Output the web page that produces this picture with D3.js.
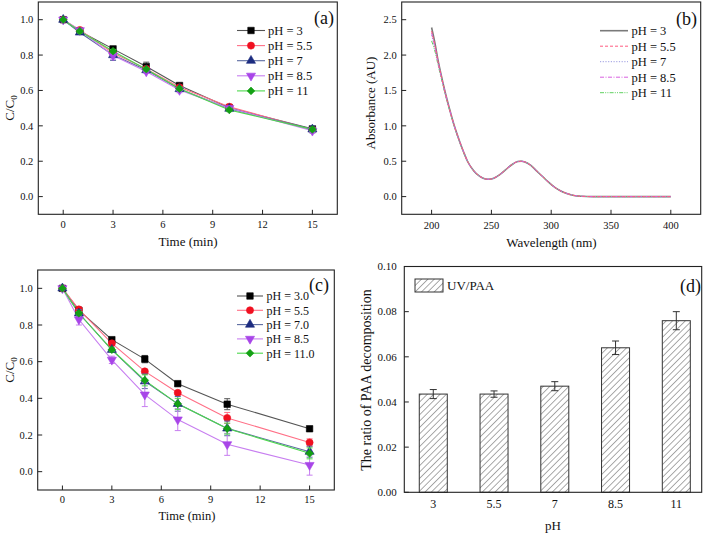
<!DOCTYPE html>
<html><head><meta charset="utf-8">
<script src="https://cdn.jsdelivr.net/npm/d3@7/dist/d3.min.js"></script>
<style>
body{margin:0;background:#fff;}
svg text{font-family:"Liberation Serif","Times New Roman",serif;fill:#111;}
</style></head>
<body><svg id="c" width="709" height="535"></svg>
<script>
// ---------- DATA ----------
const times = [0, 1, 3, 5, 7, 10, 15];
// panel (a)
const aLabels = ["pH = 3", "pH = 5.5", "pH = 7", "pH = 8.5", "pH = 11"];
const aPH3  = [1.0, 0.935, 0.835, 0.735, 0.628, 0.502, 0.383];
const aPH55 = [1.0, 0.942, 0.812, 0.722, 0.618, 0.508, 0.378];
const aPH7  = [1.0, 0.928, 0.800, 0.715, 0.608, 0.497, 0.380];
const aPH85 = [1.0, 0.940, 0.797, 0.707, 0.602, 0.500, 0.372];
const aPH11 = [1.0, 0.935, 0.822, 0.720, 0.610, 0.490, 0.380];
const aErr3  = [0, 0.005, 0.010, 0.025, 0.010, 0.010, 0.010];
const aErr55 = [0, 0.010, 0.010, 0.010, 0.010, 0.015, 0.010];
const aErr7  = [0, 0.010, 0.030, 0.010, 0.010, 0.010, 0.020];
const aErr85 = [0, 0.010, 0.020, 0.010, 0.015, 0.010, 0.010];
const aErr11 = [0, 0.010, 0.010, 0.010, 0.010, 0.010, 0.010];
// panel (b)
const wavelength = [200, 203, 205, 208, 211, 215, 219, 223, 227, 230, 235, 240, 245, 248, 252, 257, 262, 267, 272, 275, 278, 283, 288, 293, 298, 303, 308, 313, 318, 325, 335, 350, 375, 400];
const bPH3  = [2.39, 2.15, 1.96, 1.72, 1.50, 1.24, 1.00, 0.80, 0.62, 0.50, 0.37, 0.29, 0.25, 0.245, 0.26, 0.31, 0.38, 0.45, 0.495, 0.50, 0.49, 0.44, 0.36, 0.28, 0.20, 0.13, 0.08, 0.045, 0.02, 0.005, 0.0, 0.0, 0.0, 0.0];
const bPH55 = [2.34, 2.12, 1.94, 1.71, 1.49, 1.23, 1.00, 0.80, 0.62, 0.50, 0.37, 0.29, 0.25, 0.245, 0.26, 0.31, 0.38, 0.45, 0.495, 0.50, 0.49, 0.44, 0.36, 0.28, 0.20, 0.13, 0.08, 0.045, 0.02, 0.005, 0.0, 0.0, 0.0, 0.0];
const bPH7  = [2.28, 2.08, 1.92, 1.70, 1.48, 1.23, 0.99, 0.79, 0.62, 0.50, 0.37, 0.29, 0.25, 0.245, 0.26, 0.31, 0.38, 0.45, 0.495, 0.50, 0.49, 0.44, 0.36, 0.28, 0.20, 0.13, 0.08, 0.045, 0.02, 0.005, 0.0, 0.0, 0.0, 0.0];
const bPH85 = [2.31, 2.10, 1.93, 1.70, 1.49, 1.23, 1.00, 0.80, 0.62, 0.50, 0.37, 0.29, 0.25, 0.245, 0.26, 0.31, 0.38, 0.45, 0.495, 0.50, 0.49, 0.44, 0.36, 0.28, 0.20, 0.13, 0.08, 0.045, 0.02, 0.005, 0.0, 0.0, 0.0, 0.0];
const bPH11 = [2.20, 2.04, 1.89, 1.68, 1.47, 1.22, 0.99, 0.79, 0.61, 0.50, 0.37, 0.29, 0.25, 0.245, 0.26, 0.31, 0.38, 0.45, 0.495, 0.50, 0.49, 0.44, 0.36, 0.28, 0.20, 0.13, 0.08, 0.045, 0.02, 0.005, 0.0, 0.0, 0.0, 0.0];
// panel (c)
const cLabels = ["pH = 3.0", "pH = 5.5", "pH = 7.0", "pH = 8.5", "pH = 11.0"];
const cPH3  = [1.0, 0.880, 0.720, 0.614, 0.480, 0.368, 0.234];
const cPH55 = [1.0, 0.885, 0.700, 0.547, 0.430, 0.293, 0.159];
const cPH7  = [1.0, 0.864, 0.665, 0.493, 0.370, 0.236, 0.109];
const cPH85 = [1.0, 0.830, 0.610, 0.420, 0.284, 0.149, 0.036];
const cPH11 = [1.0, 0.864, 0.665, 0.498, 0.370, 0.235, 0.100];
const cErr3  = [0, 0.010, 0.010, 0.020, 0.010, 0.030, 0.010];
const cErr55 = [0, 0.010, 0.010, 0.010, 0.010, 0.030, 0.020];
const cErr7  = [0, 0.020, 0.010, 0.040, 0.040, 0.040, 0.030];
const cErr85 = [0, 0.030, 0.020, 0.065, 0.060, 0.060, 0.055];
const cErr11 = [0, 0.010, 0.010, 0.030, 0.030, 0.030, 0.030];
// panel (d)
const dCats = ["3", "5.5", "7", "8.5", "11"];
const dVals = [0.0435, 0.0435, 0.0470, 0.0640, 0.0760];
const dErr  = [0.0020, 0.0014, 0.0020, 0.0030, 0.0040];
const timeTicks = [0, 3, 6, 9, 12, 15];
const ccTicks = [0.0, 0.2, 0.4, 0.6, 0.8, 1.0];
const absTicks = [0.0, 0.5, 1.0, 1.5, 2.0, 2.5];
const wlTicks = [200, 250, 300, 350, 400];
const dTicks = [0.00, 0.02, 0.04, 0.06, 0.08, 0.10];

// ---------- STYLES ----------
const markerCol = ["#000000", "#f01020", "#1c2c80", "#a845e8", "#14a014"];
const lineCol   = ["#555555", "#ff6f86", "#5a6aa0", "#c77ef0", "#4cd84c"];
const symbols = [d3.symbolSquare, d3.symbolCircle, d3.symbolTriangle, d3.symbolTriangle, d3.symbolSquare];
const symRot = [0, 0, 0, 180, 45];
const symSize = [42, 40, 36, 36, 30];

const svg = d3.select("#c");
const axisCol = "#222";

function frame(g, L, R, T, B) {
  g.append("rect").attr("x", L).attr("y", T).attr("width", R - L).attr("height", B - T)
    .attr("fill", "none").attr("stroke", axisCol).attr("stroke-width", 1.1);
}
function xAxisTicks(g, x, ticks, B, fmt, fs, dy) {
  ticks.forEach(t => {
    g.append("line").attr("x1", x(t)).attr("x2", x(t)).attr("y1", B).attr("y2", B - 4.5).attr("stroke", axisCol);
    g.append("text").attr("x", x(t)).attr("y", B + dy).attr("text-anchor", "middle").attr("font-size", fs).text(fmt(t));
  });
}
function yAxisTicks(g, y, ticks, L, fmt, fs, dx) {
  ticks.forEach(t => {
    g.append("line").attr("x1", L).attr("x2", L + 4.5).attr("y1", y(t)).attr("y2", y(t)).attr("stroke", axisCol);
    g.append("text").attr("x", L - dx).attr("y", y(t) + 3.7).attr("text-anchor", "end").attr("font-size", fs).text(fmt(t));
  });
}
function marker(g, i, cx, cy) {
  g.append("path").attr("d", d3.symbol().type(symbols[i]).size(symSize[i])())
    .attr("transform", `translate(${cx},${cy}) rotate(${symRot[i]})`)
    .attr("fill", markerCol[i]).attr("stroke", markerCol[i]).attr("stroke-width", 0.6);
}
function ccLabel(g, x, y) {
  const t = g.append("text").attr("transform", `translate(${x},${y}) rotate(-90)`)
    .attr("text-anchor", "middle").attr("font-size", 13);
  t.append("tspan").text("C/C");
  t.append("tspan").attr("font-size", 9).attr("dy", 3).text("0");
}

function kineticPanel(L, R, T, B, series, errs, labels, tag, leg, tickDy) {
  const g = svg.append("g");
  const x = d3.scaleLinear().domain([-1.5, 16.5]).range([L, R]);
  const y = d3.scaleLinear().domain([-0.1, 1.1]).range([B, T]);
  const line = d3.line().x((d, k) => x(times[k])).y(d => y(d));
  series.forEach((s, i) => {
    g.append("path").attr("d", line(s)).attr("fill", "none").attr("stroke", lineCol[i]).attr("stroke-width", 1.1);
  });
  series.forEach((s, i) => {
    s.forEach((v, k) => {
      const e = errs[i][k];
      if (e > 0) {
        const cx = x(times[k]);
        g.append("line").attr("x1", cx).attr("x2", cx).attr("y1", y(v - e)).attr("y2", y(v + e)).attr("stroke", lineCol[i]).attr("stroke-width", 1);
        [v - e, v + e].forEach(w => g.append("line").attr("x1", cx - 3).attr("x2", cx + 3).attr("y1", y(w)).attr("y2", y(w)).attr("stroke", lineCol[i]).attr("stroke-width", 1));
      }
      marker(g, i, x(times[k]), y(v));
    });
  });
  frame(g, L, R, T, B);
  xAxisTicks(g, x, timeTicks, B, d3.format("d"), 10.5, tickDy);
  yAxisTicks(g, y, ccTicks, L, d3.format(".1f"), 10.5, 5);
  // legend
  labels.forEach((lb, i) => {
    const ly = leg.y0 + i * leg.dy;
    g.append("line").attr("x1", leg.x1).attr("x2", leg.x2).attr("y1", ly).attr("y2", ly).attr("stroke", lineCol[i]).attr("stroke-width", 1.1);
    marker(g, i, (leg.x1 + leg.x2) / 2, ly);
    g.append("text").attr("x", leg.tx).attr("y", ly + 4.3).attr("font-size", leg.fs).text(lb);
  });
  g.append("text").attr("x", tag.x).attr("y", tag.y).attr("font-size", 18).attr("text-anchor", "end").text(tag.t);
  return {g, x, y};
}

// ---------- PANEL (a) ----------
const A = kineticPanel(38.3, 337.3, 2, 214.3,
  [aPH3, aPH55, aPH7, aPH85, aPH11], [aErr3, aErr55, aErr7, aErr85, aErr11], aLabels,
  {x: 334, y: 24, t: "(a)"}, {x1: 237, x2: 265, tx: 268, y0: 30.5, dy: 15.1, fs: 12.5}, 14);
A.g.append("text").attr("x", 188).attr("y", 246).attr("text-anchor", "middle").attr("font-size", 13).text("Time (min)");
ccLabel(A.g, 14, 108);

// ---------- PANEL (b) ----------
(function () {
  const L = 401.7, R = 700.7, T = 2, B = 214.3;
  const g = svg.append("g");
  const x = d3.scaleLinear().domain([175, 425]).range([L, R]);
  const y = d3.scaleLinear().domain([-0.25, 2.75]).range([B, T]);
  const bSeries = [bPH3, bPH55, bPH7, bPH85, bPH11];
  const bCol = ["#7a7a7a", "#ff5c80", "#9a9ae0", "#d860e0", "#5fd05f"];
  const bDash = [null, "3,2", "1.2,1.5", "4,1.5,1,1.5", "4,1.2,1,1.2,1,1.2"];
  const bW = [1.6, 1, 1, 1, 1];
  const line = d3.line().x((d, k) => x(wavelength[k])).y(d => y(d)).curve(d3.curveMonotoneX);
  [0, 4, 2, 3, 1].forEach(i => {
    g.append("path").attr("d", line(bSeries[i])).attr("fill", "none").attr("stroke", bCol[i])
      .attr("stroke-width", bW[i]).attr("stroke-dasharray", bDash[i]);
  });
  frame(g, L, R, T, B);
  xAxisTicks(g, x, wlTicks, B, d3.format("d"), 10.5, 14.5);
  yAxisTicks(g, y, absTicks, L, d3.format(".1f"), 10.5, 5);
  aLabels.forEach((lb, i) => {
    const ly = 30.7 + i * 15.5;
    g.append("line").attr("x1", 600).attr("x2", 628).attr("y1", ly).attr("y2", ly).attr("stroke", bCol[i])
      .attr("stroke-width", bW[i]).attr("stroke-dasharray", bDash[i]);
    g.append("text").attr("x", 631.5).attr("y", ly + 4.3).attr("font-size", 12.5).text(lb);
  });
  g.append("text").attr("x", 697).attr("y", 25).attr("font-size", 18).attr("text-anchor", "end").text("(b)");
  g.append("text").attr("x", 551.5).attr("y", 247).attr("text-anchor", "middle").attr("font-size", 13).text("Wavelength (nm)");
  g.append("text").attr("transform", "translate(375,103) rotate(-90)").attr("text-anchor", "middle").attr("font-size", 13).text("Absorbance (AU)");
})();

// ---------- PANEL (c) ----------
const C = kineticPanel(37.7, 334.3, 270, 490,
  [cPH3, cPH55, cPH7, cPH85, cPH11], [cErr3, cErr55, cErr7, cErr85, cErr11], cLabels,
  {x: 329, y: 291, t: "(c)"}, {x1: 237, x2: 263, tx: 266.5, y0: 296, dy: 14.3, fs: 12}, 12.5);
C.g.append("text").attr("x", 187).attr("y", 520).attr("text-anchor", "middle").attr("font-size", 12.5).text("Time (min)");
ccLabel(C.g, 14, 370);

// ---------- PANEL (d) ----------
(function () {
  const L = 404.3, R = 701.7, T = 266.5, B = 492.3;
  const g = svg.append("g");
  const defs = svg.append("defs");
  const pat = defs.append("pattern").attr("id", "hatch").attr("patternUnits", "userSpaceOnUse")
    .attr("width", 4.5).attr("height", 4.5).attr("patternTransform", "rotate(45)");
  pat.append("rect").attr("width", 4.5).attr("height", 4.5).attr("fill", "#fff");
  pat.append("line").attr("x1", 0).attr("x2", 0).attr("y1", 0).attr("y2", 4.5).attr("stroke", "#444").attr("stroke-width", 0.9);
  const x = d3.scaleLinear().domain([-0.477, 4.418]).range([L, R]);
  const y = d3.scaleLinear().domain([0, 0.10]).range([B, T]);
  const bw = 28;
  dVals.forEach((v, i) => {
    g.append("rect").attr("x", x(i) - bw / 2).attr("y", y(v)).attr("width", bw).attr("height", B - y(v))
      .attr("fill", "url(#hatch)").attr("stroke", "#333").attr("stroke-width", 1);
    const cx = x(i), e = dErr[i];
    g.append("line").attr("x1", cx).attr("x2", cx).attr("y1", y(v - e)).attr("y2", y(v + e)).attr("stroke", "#333");
    [v - e, v + e].forEach(w => g.append("line").attr("x1", cx - 3.5).attr("x2", cx + 3.5).attr("y1", y(w)).attr("y2", y(w)).attr("stroke", "#333"));
    g.append("text").attr("x", cx).attr("y", B + 16).attr("text-anchor", "middle").attr("font-size", 12).text(dCats[i]);
  });
  frame(g, L, R, T, B);
  yAxisTicks(g, y, dTicks, L, d3.format(".2f"), 11, 7.5);
  g.append("rect").attr("x", 415).attr("y", 279).attr("width", 28).attr("height", 13)
    .attr("fill", "url(#hatch)").attr("stroke", "#333");
  g.append("text").attr("x", 447).attr("y", 290).attr("font-size", 13).text("UV/PAA");
  g.append("text").attr("x", 701).attr("y", 292).attr("font-size", 18).attr("text-anchor", "end").text("(d)");
  g.append("text").attr("x", 553).attr("y", 530).attr("text-anchor", "middle").attr("font-size", 13).text("pH");
  g.append("text").attr("transform", "translate(371,380) rotate(-90)").attr("text-anchor", "middle").attr("font-size", 14).text("The ratio of PAA decomposition");
})();
</script></body></html>
